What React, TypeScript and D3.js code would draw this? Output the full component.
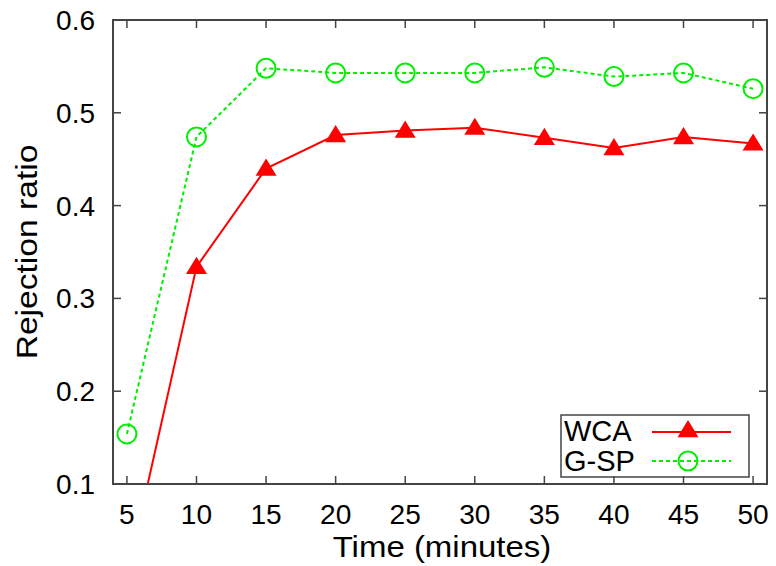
import React from 'react';
import * as d3 from 'd3';

// minutes
const times = [5, 10, 15, 20, 25, 30, 35, 40, 45, 50];
// rejection ratio per series
const wcaValues = [0.0, 0.334, 0.44, 0.476, 0.481, 0.484, 0.473, 0.462, 0.474, 0.467];
const gspValues = [0.154, 0.474, 0.548, 0.543, 0.543, 0.543, 0.549, 0.539, 0.543, 0.526];
const xTicks = [5, 10, 15, 20, 25, 30, 35, 40, 45, 50];
const yTicks = [0.1, 0.2, 0.3, 0.4, 0.5, 0.6];

const width = 776;
const height = 566;
const margin = { top: 20, right: 9, bottom: 82, left: 113 };
const font = '"Liberation Sans", Arial, Helvetica, sans-serif';
const axisColor = '#444';
const red = '#ff0000';
const green = '#00ee00';

export default function App() {
    const x = d3.scaleLinear().domain([4, 51]).range([margin.left, width - margin.right]);
    const y = d3.scaleLinear().domain([0.1, 0.6]).range([height - margin.bottom, margin.top]);
    const x0 = margin.left, x1 = width - margin.right;
    const y0 = height - margin.bottom, y1 = margin.top;
    const tickLen = 8;

    const line = d3.line<number>()
        .x((d, i) => x(times[i]))
        .y(d => y(d));

    const tri = (cx: number, cy: number, s = 10) =>
        `M${cx},${cy - s} L${cx + s * 1.05},${cy + s * 0.72} L${cx - s * 1.05},${cy + s * 0.72} Z`;

    // legend
    const lgX = 561, lgY = 415, lgW = 188, lgH = 62;
    const rowWca = 432, rowGsp = 461;
    const sampleX0 = 652, sampleX1 = 731, sampleMid = 688;
    const titleX = (x0 + x1) / 2 + 2;

    return (
        <svg width={width} height={height} style={{ position: 'absolute', left: 0, top: 0, background: '#fff' }}
            fontFamily={font}>
            <defs>
                <clipPath id="plot-clip">
                    <rect x={x0} y={y1} width={x1 - x0} height={y0 - y1} />
                </clipPath>
            </defs>

            {/* ticks, mirrored on all sides */}
            {xTicks.map(t => (
                <g key={'xt' + t}>
                    <line x1={x(t)} x2={x(t)} y1={y0} y2={y0 - tickLen} stroke={axisColor} strokeWidth={1.5} />
                    <line x1={x(t)} x2={x(t)} y1={y1} y2={y1 + tickLen} stroke={axisColor} strokeWidth={1.5} />
                    <text x={x(t)} y={524} textAnchor="middle" fontSize={27}
                        transform={`translate(${x(t)},0) scale(1.04,1) translate(${-x(t)},0)`} fill="#000">{t}</text>
                </g>
            ))}
            {yTicks.map(t => (
                <g key={'yt' + t}>
                    <line x1={x0} x2={x0 + tickLen} y1={y(t)} y2={y(t)} stroke={axisColor} strokeWidth={1.5} />
                    <line x1={x1} x2={x1 - tickLen} y1={y(t)} y2={y(t)} stroke={axisColor} strokeWidth={1.5} />
                    <text x={95} y={y(t) + 10} textAnchor="end" fontSize={28} fill="#000">{t.toFixed(1)}</text>
                </g>
            ))}

            {/* series */}
            <g clipPath="url(#plot-clip)">
                <path d={line(wcaValues) || ''} fill="none" stroke={red} strokeWidth={2} />
                <path d={line(gspValues) || ''} fill="none" stroke={green} strokeWidth={2} strokeDasharray="4,3" />
                {wcaValues.map((v, i) => (
                    v >= 0.1 ? <path key={'w' + i} d={tri(x(times[i]), y(v))} fill={red} /> : null
                ))}
                {gspValues.map((v, i) => (
                    <circle key={'g' + i} cx={x(times[i])} cy={y(v)} r={9.5} fill="none" stroke={green} strokeWidth={2} />
                ))}
            </g>

            {/* frame */}
            <rect x={x0} y={y1} width={x1 - x0} height={y0 - y1} fill="none" stroke={axisColor} strokeWidth={2} />

            {/* legend */}
            <rect x={lgX} y={lgY} width={lgW} height={lgH} fill="none" stroke={axisColor} strokeWidth={1.5} />
            <text x={564} y={441} fontSize={29} fill="#000">WCA</text>
            <line x1={sampleX0} x2={sampleX1} y1={rowWca} y2={rowWca} stroke={red} strokeWidth={2} />
            <path d={tri(sampleMid, rowWca - 2)} fill={red} />
            <text x={564} y={471} fontSize={29} fill="#000">G-SP</text>
            <line x1={sampleX0} x2={sampleX1} y1={rowGsp} y2={rowGsp} stroke={green} strokeWidth={2} strokeDasharray="4,3" />
            <circle cx={sampleMid} cy={rowGsp} r={9.5} fill="none" stroke={green} strokeWidth={2} />

            {/* axis titles */}
            <text x={titleX} y={557} textAnchor="middle" fontSize={30} fill="#000"
                transform={`translate(${titleX},0) scale(1.1,1) translate(${-titleX},0)`}>
                Time (minutes)
            </text>
            <text transform={`translate(37,${(y0 + y1) / 2}) rotate(-90) scale(1.12,1)`} textAnchor="middle"
                fontSize={30} fill="#000">
                Rejection ratio
            </text>
        </svg>
    );
}
